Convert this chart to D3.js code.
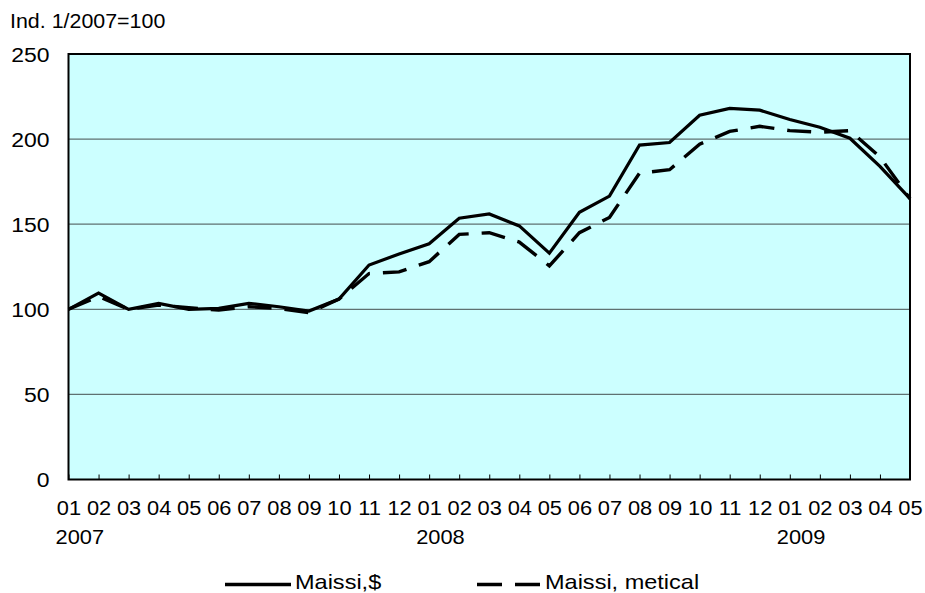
<!DOCTYPE html>
<html><head><meta charset="utf-8">
<script src="https://cdn.jsdelivr.net/npm/d3@7"></script>
<style>
body{margin:0;background:#fff}
svg{display:block;font-family:"Liberation Sans",Arial,sans-serif}
</style></head>
<body><svg id="c" width="925" height="593"></svg>
<script>
// ---- data ----
const months = ["01","02","03","04","05","06","07","08","09","10","11","12",
                "01","02","03","04","05","06","07","08","09","10","11","12",
                "01","02","03","04","05"];
const yearLabels = ["2007","2008","2009"];
const yearIndex = [0, 12, 24];
const seriesNames = ["Maissi,$", "Maissi, metical"];
const maissiUSD = [100,109.5,100,103.5,100,100.5,103.5,101.5,99,106,126,132.5,138.5,153.5,156,149,133,157,166.5,196.5,198,214,218,217,211.5,207,200.5,184,165];
const maissiMetical = [100,107.5,100,102.5,101,99.5,101.5,100.5,98,106,121,122,128,144,145,139.5,125.5,145,154,180,182,197,204.5,207.5,205,204,205,189.5,165];
const yTicks = [0,50,100,150,200,250];
const yTitle = "Ind. 1/2007=100";

// ---- layout ----
const svg = d3.select("#c");
const L = 68.5, R = 910, T = 54, B = 479.5;
const SX = 1.12;
const x = d3.scalePoint().domain(d3.range(months.length)).range([L, R]);
const y = d3.scaleLinear().domain([0,250]).range([B, T]);

svg.append("rect").attr("x",L).attr("y",T).attr("width",R-L).attr("height",B-T)
  .attr("fill","#ccffff");

// gridlines
svg.append("g").selectAll("line").data(yTicks.filter(d=>d>0 && d<250)).join("line")
  .attr("x1",L).attr("x2",R).attr("y1",d=>y(d)).attr("y2",d=>y(d))
  .attr("stroke","#5f7171").attr("stroke-width",1.3);

// x axis
const xa = svg.append("g").attr("transform",`translate(0,${B})`)
  .call(d3.axisBottom(x).tickFormat(i=>months[i]).tickSizeInner(-5).tickSizeOuter(0));
xa.select(".domain").remove();
xa.selectAll(".tick line").attr("stroke","#000").attr("stroke-width",1);
xa.selectAll(".tick text").attr("y",0).attr("dy",0)
  .attr("font-size",19.5).attr("fill","#000").attr("font-family",null)
  .attr("transform",`translate(0,35.5) scale(${SX},1)`);

// year labels
svg.append("g").selectAll("g").data(yearLabels).join("g")
  .attr("transform",(d,i)=>`translate(${x(yearIndex[i])-13},544)`)
  .append("text").attr("font-size",19.5).attr("transform",`scale(${SX},1)`).text(d=>d);

// y axis
const ya = svg.append("g").attr("transform",`translate(${L},0)`)
  .call(d3.axisLeft(y).tickValues(yTicks).tickSize(0));
ya.select(".domain").remove();
ya.selectAll(".tick text").attr("x",0).attr("dy","0.36em")
  .attr("font-size",20.5).attr("fill","#000").attr("font-family",null)
  .attr("text-anchor","end")
  .attr("transform",`translate(-19,0) scale(${SX},1)`);

// y title
svg.append("g").attr("transform","translate(10,28)")
  .append("text").attr("font-size",19.5).attr("transform",`scale(${SX*0.98},1)`).text(yTitle);

// lines
const line = d3.line().x((d,i)=>x(i)).y(d=>y(d));
svg.append("path").datum(maissiUSD).attr("d",line)
  .attr("fill","none").attr("stroke","#000").attr("stroke-width",3.2).attr("stroke-linejoin","miter");
svg.append("path").datum(maissiMetical).attr("d",line)
  .attr("fill","none").attr("stroke","#000").attr("stroke-width",3.4)
  .attr("stroke-dasharray","24,13");

// border
svg.append("rect").attr("x",L).attr("y",T).attr("width",R-L).attr("height",B-T)
  .attr("fill","none").attr("stroke","#000").attr("stroke-width",2);

// legend
const lg = [
  {x1:225,x2:291,dash:null,tx:295},
  {x1:477,x2:541,dash:"25,13",tx:545}
];
const leg = svg.append("g").selectAll("g").data(seriesNames).join("g");
leg.append("line").attr("x1",(d,i)=>lg[i].x1).attr("x2",(d,i)=>lg[i].x2)
  .attr("y1",584.5).attr("y2",584.5).attr("stroke","#000").attr("stroke-width",3.4)
  .attr("stroke-dasharray",(d,i)=>lg[i].dash);
leg.append("g").attr("transform",(d,i)=>`translate(${lg[i].tx},589)`)
  .append("text").attr("font-size",21).attr("transform",`scale(${SX},1)`).text(d=>d);
</script></body></html>
